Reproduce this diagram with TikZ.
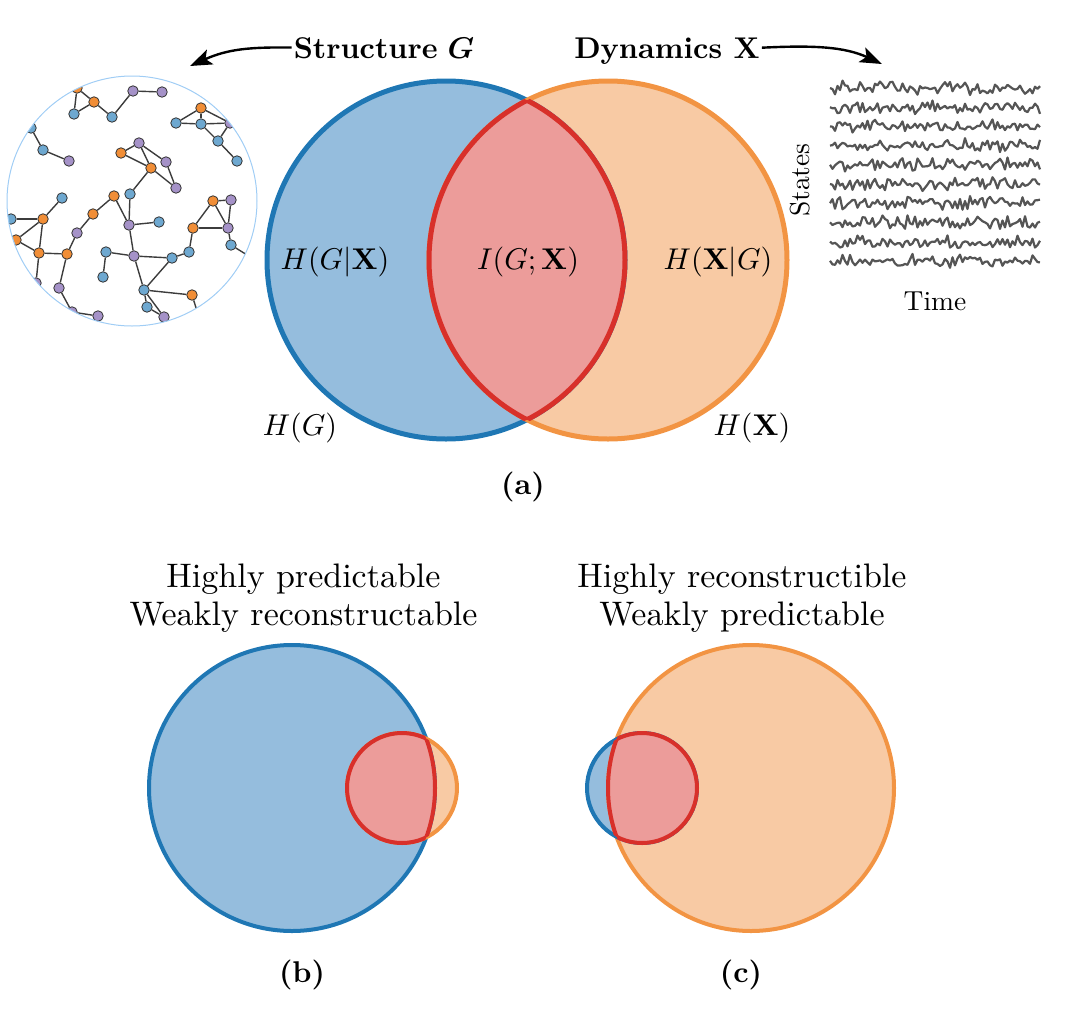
\documentclass[tikz,border=0pt]{standalone}
\usepackage{amsmath,amssymb}
\usetikzlibrary{arrows.meta}
\definecolor{netblue}{RGB}{110,168,208}
\definecolor{netorange}{RGB}{241,142,55}
\definecolor{netpurple}{RGB}{165,146,200}
\definecolor{nodeedge}{RGB}{50,50,50}
\definecolor{edgegray}{RGB}{60,60,60}
\definecolor{ringblue}{RGB}{160,205,245}
\definecolor{bluefill}{RGB}{149,189,221}
\definecolor{bluestroke}{RGB}{31,119,180}
\definecolor{orangefill}{RGB}{248,202,164}
\definecolor{orangestroke}{RGB}{242,148,67}
\definecolor{redfill}{RGB}{236,156,154}
\definecolor{redstroke}{RGB}{216,48,42}
\definecolor{tsgray}{RGB}{85,85,85}
\tikzset{
  nb/.style={circle, draw=nodeedge, line width=0.8pt, fill=netblue, minimum size=10.5pt, inner sep=0pt},
  no/.style={nb, fill=netorange},
  np/.style={nb, fill=netpurple},
  netedge/.style={draw=edgegray, line width=1.4pt},
  netring/.style={draw=ringblue, line width=1pt},
  lab/.style={scale=3, inner sep=0.5pt},
  biglab/.style={scale=3.4, inner sep=0pt, anchor=base},
  smlab/.style={scale=2.75, inner sep=0pt},
  bigarrow/.style={line width=2.4pt, -{Stealth[length=22pt,width=16pt,inset=5pt]}},
  ts/.style={draw=tsgray, line width=2.2pt, line join=round},
}
\begin{document}
\begin{tikzpicture}[x=1pt,y=-1pt]
\useasboundingbox (0,0) rectangle (1080,1018);

% ---------- network ----------
\begin{scope}
\clip (132,201) circle (125pt);
\foreach \i/\x/\y/\c in {
 1/77/88/no, 2/94/102/no, 3/74/114/nb, 4/112/117/nb, 5/133/91/np, 6/162/92/np,
 7/201/108/no, 8/176/123/nb, 9/201/124/nb, 10/230/123/np, 11/218/141/nb, 12/237/161/nb,
 13/31/128/nb, 14/43/150/nb, 15/69/161/np, 16/139/143/np, 17/121/153/no, 18/166/162/np,
 19/151/168/no, 20/176/188/np, 21/114/196/no, 22/130/194/nb, 23/62/198/nb, 24/93/214/no,
 25/129/225/np, 26/159/222/nb, 27/213/201/no, 28/231/200/np, 29/193/228/no, 30/228/228/np,
 31/231/245/nb, 32/11/219/nb, 33/43/219/no, 34/16/240/no, 35/77/233/np, 36/39/253/no,
 37/67/254/no, 38/106/252/nb, 39/103/277/nb, 40/134/256/np, 41/172/258/nb, 42/189/252/nb,
 43/36/283/np, 44/59/288/np, 45/144/290/nb, 46/192/295/no, 47/147/307/nb, 48/164/317/np,
 49/98/316/np, 50/72/312/np, 51/252/258/np, 52/198/314/nb}
  \node[\c] (n\i) at (\x,\y) {};
\foreach \a/\b in {1/3,1/2,2/3,2/4,4/5,5/6,
  7/8,7/9,7/10,8/9,9/10,9/11,10/11,11/12,
  13/14,14/15,
  17/16,17/19,16/19,16/18,18/20,19/20,19/22,
  22/25,21/25,21/24,24/35,25/26,25/40,
  27/28,27/29,27/30,28/30,29/30,29/42,30/31,31/51,
  32/33,33/23,33/34,33/36,34/36,36/37,37/35,36/43,37/44,44/50,50/49,
  38/40,38/39,40/41,40/45,41/42,41/45,45/46,45/47,45/48,46/52,47/48}
  \draw[netedge] (n\a) -- (n\b);
\end{scope}
\draw[netring] (132,201) circle (125pt);

% ---------- time series ----------
\pgfmathsetseed{4711}
\foreach \k in {0,...,9}{
  \pgfmathsetmacro{\yy}{88+19.2*\k}
  \draw[ts] (830,\yy) \foreach \i in {1,...,84} { -- ({830+2.5*\i},{\yy+4.3*rand+3.3*rand}) };
}
\node[smlab] (timelbl) at (935,301) {Time};
\node[smlab, rotate=90] (stateslbl) at (800,180) {States};

% ---------- Venn (a) ----------
\fill[bluefill] (446,260) circle (179pt);
\fill[orangefill] (608,260) circle (179pt);
\draw[bluestroke, line width=5pt] (446,260) circle (179pt);
\draw[orangestroke, line width=5pt] (608,260) circle (179pt);
\begin{scope}
  \clip (446,260) circle (179pt);
  \fill[redfill] (608,260) circle (179pt);
  \draw[redstroke, line width=5pt] (608,260) circle (179pt);
\end{scope}
\begin{scope}
  \clip (608,260) circle (179pt);
  \draw[redstroke, line width=5pt] (446,260) circle (179pt);
\end{scope}

\node[lab] (hgx) at (335,262) {$H(G|\mathbf{X})$};
\node[lab] (igx) at (528,262) {$I(G;\mathbf{X})$};
\node[lab] (hxg) at (718,262) {$H(\mathbf{X}|G)$};
\node[lab] (hg) at (300,428) {$H(G)$};
\node[lab] (hx) at (752,428) {$H(\mathbf{X})$};
\node[lab] (la) at (523,487) {\textbf{(a)}};

% ---------- top labels + arrows ----------
\node[lab, anchor=base, text depth=0pt] (structlbl) at (384,58) {\textbf{Structure} $\boldsymbol{G}$};
\node[lab, anchor=base, text depth=0pt] (dynlbl) at (667,58) {\textbf{Dynamics X}};
\coordinate (ltip) at (190,66);
\coordinate (rtip) at (882,64);
\draw[bigarrow] (structlbl.west) .. controls (250,47) and (228,49) .. (ltip);
\draw[bigarrow] (dynlbl.east) .. controls (815,45) and (845,47) .. (rtip);

% ---------- Venn (b) ----------
\fill[bluefill] (292,788) circle (143pt);
\fill[orangefill] (402,788) circle (55pt);
\draw[bluestroke, line width=4pt] (292,788) circle (143pt);
\draw[orangestroke, line width=4pt] (402,788) circle (55pt);
\begin{scope}
  \clip (292,788) circle (143pt);
  \fill[redfill] (402,788) circle (55pt);
  \draw[redstroke, line width=4pt] (402,788) circle (55pt);
\end{scope}
\begin{scope}
  \clip (402,788) circle (55pt);
  \draw[redstroke, line width=4pt] (292,788) circle (143pt);
\end{scope}

% ---------- Venn (c) ----------
\fill[orangefill] (751,788) circle (143pt);
\fill[bluefill] (642,788) circle (55pt);
\draw[orangestroke, line width=4pt] (751,788) circle (143pt);
\draw[bluestroke, line width=4pt] (642,788) circle (55pt);
\begin{scope}
  \clip (751,788) circle (143pt);
  \fill[redfill] (642,788) circle (55pt);
  \draw[redstroke, line width=4pt] (642,788) circle (55pt);
\end{scope}
\begin{scope}
  \clip (642,788) circle (55pt);
  \draw[redstroke, line width=4pt] (751,788) circle (143pt);
\end{scope}

% ---------- bottom labels ----------
\node[biglab] (b1) at (303.5,587) {Highly predictable};
\node[biglab] (b2) at (303.5,625) {Weakly reconstructable};
\node[biglab] (c1) at (742,587) {Highly reconstructible};
\node[biglab] (c2) at (742,625) {Weakly predictable};
\node[lab] (lb) at (302,975) {\textbf{(b)}};
\node[lab] (lc) at (741,975) {\textbf{(c)}};
\end{tikzpicture}
\end{document}
